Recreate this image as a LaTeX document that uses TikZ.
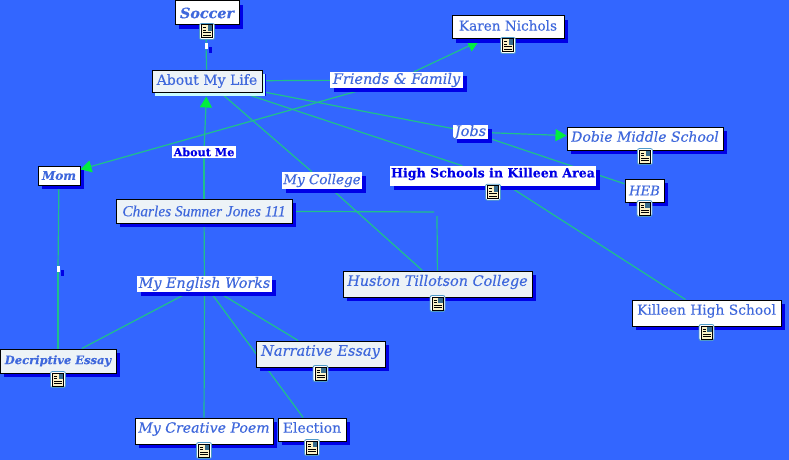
\documentclass[tikz,border=0pt]{standalone}
\usepackage{fontspec}
\setmainfont{DejaVu Serif}[FakeBold=0.25]
\newfontfamily\scriptface{Liberation Serif}[FakeBold=0.2]
\usetikzlibrary{arrows.meta,backgrounds,shadows}
\definecolor{mapblue}{HTML}{3366FF}
\definecolor{inkblue}{HTML}{3F68DC}
\definecolor{darkshadow}{HTML}{0000E6}
\definecolor{linkgreen}{HTML}{1FC08C}
\definecolor{tipgreen}{HTML}{00EE40}
\definecolor{palefill}{HTML}{EDF3F7}
\definecolor{paleshadow}{HTML}{C8FCFF}
\definecolor{pagecream}{HTML}{FBF3C8}
\definecolor{iconedge}{HTML}{4E9AC8}
\newcommand{\sz}[1]{\fontsize{#1}{#1}\selectfont}
\newcommand{\up}[1]{\raisebox{2pt}[\height][\depth]{#1}}

\begin{document}
\begin{tikzpicture}[
    x=1pt, y=-1pt,
    topicbox/.style={draw=black, line width=1pt, fill=white, inner sep=0pt, text=inkblue,
      drop shadow={shadow xshift=4pt, shadow yshift=-4pt, fill=darkshadow, opacity=1}},
    palebox/.style={topicbox, fill=palefill},
    linklabel/.style={fill=white, inner sep=0pt, text=inkblue,
      drop shadow={shadow xshift=4pt, shadow yshift=-4pt, fill=darkshadow, opacity=1}},
    linktick/.style={fill=white, inner sep=0pt, minimum width=3pt, minimum height=6pt,
      drop shadow={shadow xshift=4pt, shadow yshift=-4pt, fill=darkshadow, opacity=1}},
    link/.style={linkgreen, line width=1.2pt},
    arrow/.style={link, -{Triangle[length=11pt, width=12pt, color=tipgreen, fill=tipgreen]}},
    docicon/.pic={
      \draw[iconedge, fill=white, rounded corners=2pt, line width=0.8pt] (-7.5,-8) rectangle (7.5,8);
      \draw[black, fill=pagecream, line width=1pt] (-5.5,-6.5) rectangle (5.5,6.5);
      \fill[iconedge!70!black] (0.5,-6) rectangle (5,-0.5);
      \draw[black, line width=1pt] (-4,-3.5) -- (-1,-3.5) (-4,-1) -- (-1,-1) (-4,1.5) -- (4,1.5) (-4,4) -- (4,4);
    }
  ]
  \useasboundingbox (0,0) rectangle (789,460);
  \node[topicbox, minimum width=64pt, minimum height=24pt, font=\sz{14.3}\bfseries\itshape] (soccer) at (207,13) {Soccer};
  \node[palebox, minimum width=110pt, minimum height=22pt, font=\sz{14}, drop shadow={shadow xshift=3pt, shadow yshift=-4pt, fill=paleshadow, opacity=1}] (aboutlife) at (207,81) {About My Life};
  \node[linklabel, minimum width=133pt, minimum height=16pt, font=\sz{14.5}\itshape] (friends) at (396.5,80) {Friends \& Family};
  \node[topicbox, minimum width=112pt, minimum height=23pt, font=\sz{13.6}] (karen) at (508,27.5) {\up{Karen Nichols}};
  \node[linklabel, minimum width=35pt, minimum height=12pt, font=\sz{14.5}\itshape] (jobs) at (470.5,132) {Jobs};
  \node[topicbox, minimum width=156pt, minimum height=23pt, font=\sz{14}\itshape] (dobie) at (645,138.5) {\up{Dobie Middle School}};
  \node[linklabel, minimum width=206pt, minimum height=20pt, text=darkshadow, font=\sz{12.6}\bfseries] (highschools) at (493,176) {\up{High Schools in Killeen Area}};
  \node[topicbox, minimum width=39pt, minimum height=23pt, font=\sz{13.2}\itshape] (heb) at (644.5,190.5) {HEB};
  \node[palebox, minimum width=189pt, minimum height=26pt, font=\sz{14.4}\itshape] (huston) at (437.5,284) {\up{Huston Tillotson College}};
  \node[topicbox, minimum width=149pt, minimum height=26pt, font=\sz{13.8}] (killeen) at (706.5,313) {\up{Killeen High School}};
  \node[topicbox, minimum width=42pt, minimum height=19pt, font=\sz{12}\bfseries\itshape] (mom) at (59,175.5) {Mom};
  \node[palebox, minimum width=176pt, minimum height=24pt, font=\sz{15.4}\scriptface\itshape] (charles) at (204,211) {Charles Sumner Jones 111};
  \node[linklabel, minimum width=135pt, minimum height=16pt, font=\sz{14.3}\itshape] (english) at (204.5,284) {My English Works};
  \node[linklabel, minimum width=80pt, minimum height=17pt, font=\sz{13.5}\itshape] (college) at (322,180.5) {My College};
  \node[fill=white, inner sep=0pt, minimum width=64pt, minimum height=12pt, text=darkshadow, font=\sz{11.2}\bfseries] (aboutme) at (204,152) {About Me};
  \node[palebox, minimum width=116pt, minimum height=24pt, font=\sz{11.5}\bfseries\itshape] (decriptive) at (58,361) {Decriptive Essay};
  \node[palebox, minimum width=129pt, minimum height=26pt, font=\sz{14.6}\itshape] (narrative) at (320.5,354) {\up{Narrative Essay}};
  \node[topicbox, minimum width=138pt, minimum height=26pt, font=\sz{14.1}\itshape] (poem) at (204,431) {\up{My Creative Poem}};
  \node[topicbox, minimum width=68pt, minimum height=23pt, font=\sz{14}] (election) at (312,429.5) {\up{Election}};
  \node[linktick] (soccertick) at (206,46) {};
  \node[linktick] (momtick) at (58,269) {};
  \coordinate (elbowa) at (434,212);
  \coordinate (elbowb) at (437,216);

  \pic at ([yshift=-6pt]soccer.south) {docicon};
  \pic at ([yshift=-6pt]karen.south) {docicon};
  \pic at ([yshift=-6pt]dobie.south) {docicon};
  \pic at ([yshift=-6pt]highschools.south) {docicon};
  \pic at ([yshift=-6pt]heb.south) {docicon};
  \pic at ([yshift=-6pt]huston.south) {docicon};
  \pic at ([yshift=-6pt]killeen.south) {docicon};
  \pic at ([yshift=-6pt]decriptive.south) {docicon};
  \pic at ([yshift=-6pt]narrative.south) {docicon};
  \pic at ([yshift=-6pt]poem.south) {docicon};
  \pic at ([yshift=-6pt]election.south) {docicon};

  \begin{scope}[on background layer]
    \fill[mapblue] (0,0) rectangle (789,460);
    \draw[link] (soccer) -- (soccertick);
    \draw[link] (soccertick) -- (aboutlife);
    \draw[link] (aboutlife) -- (friends);
    \draw[arrow, shorten >=4pt] (friends) -- (karen);
    \draw[arrow] (friends) -- (mom);
    \draw[link] (aboutlife) -- (jobs);
    \draw[arrow] (jobs) -- (dobie);
    \draw[link] (jobs) -- (heb);
    \draw[link] (aboutlife) -- (highschools);
    \draw[link] (highschools) -- (killeen);
    \draw[link] (aboutlife) -- (college);
    \draw[link] (college) -- (huston);
    \draw[link] (charles) -- (elbowa);
    \draw[link] (elbowb) -- (huston);
    \draw[link] (charles) -- (aboutme);
    \draw[arrow, shorten >=4pt] (aboutme) -- (aboutlife);
    \draw[link] (charles) -- (english);
    \draw[link] (english) -- (decriptive);
    \draw[link] (english) -- (narrative);
    \draw[link] (english) -- (poem);
    \draw[link] (english) -- (election);
    \draw[link] (mom) -- (momtick);
    \draw[link] (momtick) -- (decriptive);
  \end{scope}
\end{tikzpicture}
\end{document}
